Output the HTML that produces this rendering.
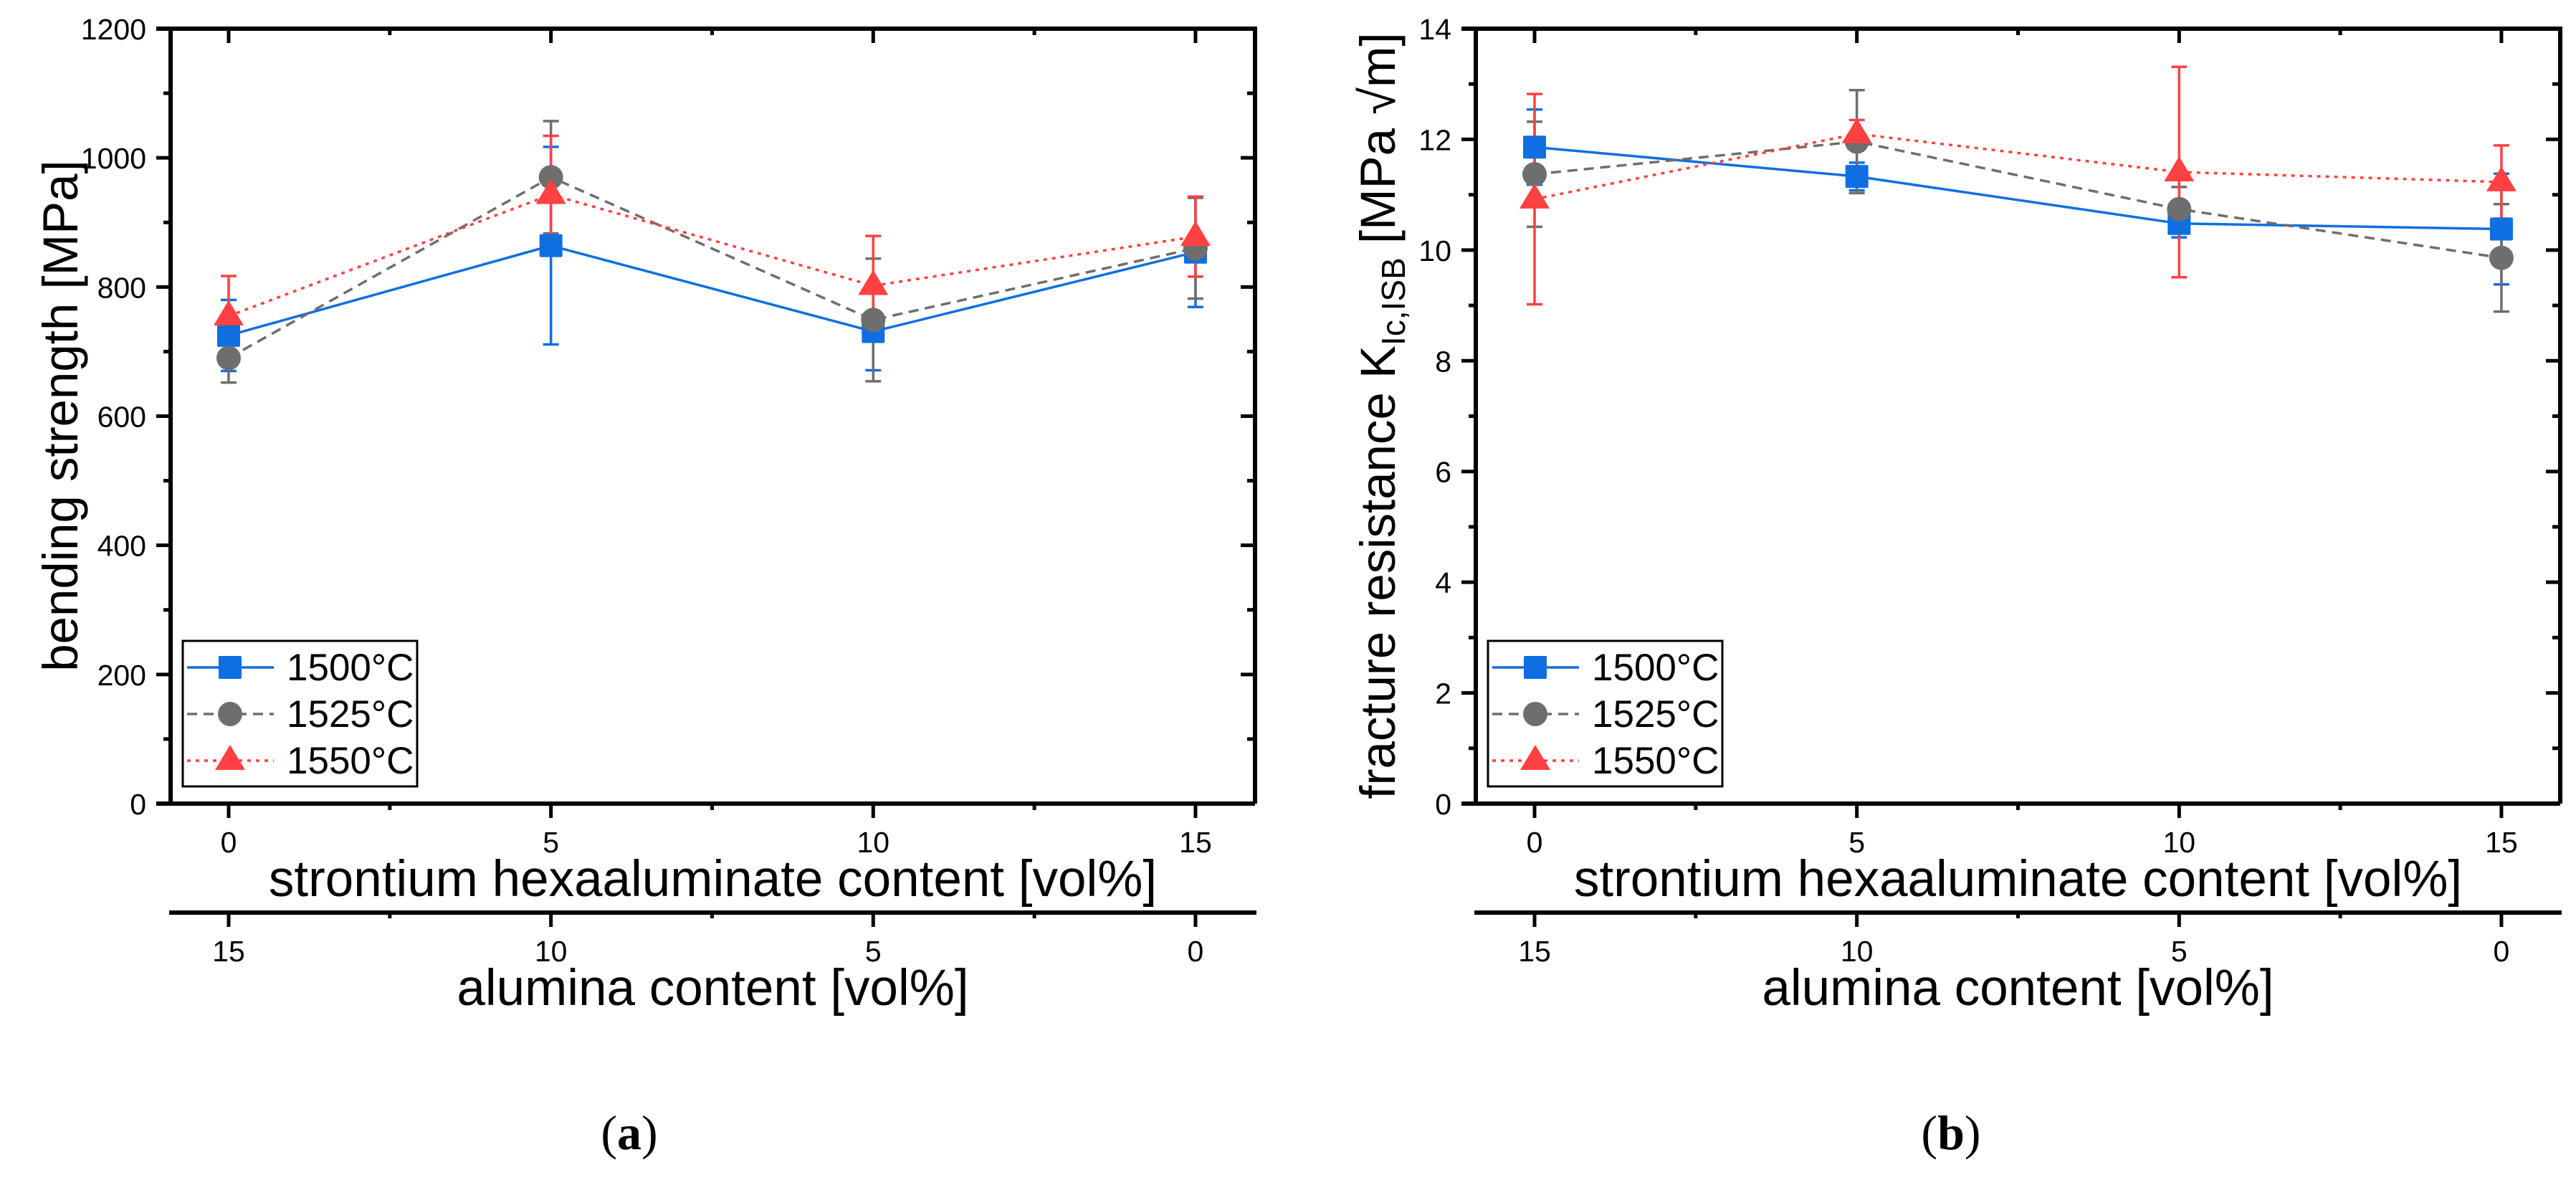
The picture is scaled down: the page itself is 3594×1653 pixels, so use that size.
<!DOCTYPE html>
<html><head><meta charset="utf-8"><style>
html,body{margin:0;padding:0;background:#fff;}
svg{display:block;font-family:"Liberation Sans",Arial,sans-serif;}
</style></head><body>
<svg id="fig" width="3594" height="1653" viewBox="0 0 3594 1653" xmlns="http://www.w3.org/2000/svg"></svg>
<script>
const categories = [0, 5, 10, 15];
const aluminaLabels = ["15", "10", "5", "0"];
const seriesNames = ["1500°C", "1525°C", "1550°C"];
const strength1500 = [725, 864, 731, 854];
const strength1525 = [690, 970, 749, 860];
const strength1550 = [755, 943, 802, 878];
const strengthErr1500 = [55, 153, 60, 85];
const strengthErr1525 = [38, 87, 95, 78];
const strengthErr1550 = [62, 91, 77, 62];
const kic1500 = [11.86, 11.33, 10.48, 10.38];
const kic1525 = [11.37, 11.96, 10.74, 9.86];
const kic1550 = [10.92, 12.1, 11.41, 11.23];
const kicErr1500 = [0.68, 0.25, 0.25, 1.0];
const kicErr1525 = [0.95, 0.93, 0.4, 0.97];
const kicErr1550 = [1.9, 0.25, 1.9, 0.66];
const strengthTicks = [0, 200, 400, 600, 800, 1000, 1200];
const kicTicks = [0, 2, 4, 6, 8, 10, 12, 14];

const NS = "http://www.w3.org/2000/svg";
const svg = document.getElementById("fig");
function mk(tag, attrs, parent, text) {
  const e = document.createElementNS(NS, tag);
  for (const k in attrs) e.setAttribute(k, attrs[k]);
  if (text !== undefined) e.textContent = text;
  (parent || svg).appendChild(e);
  return e;
}
const colors = ["#0f6fe0", "#6e6e6e", "#ff4141"];
const dashes = ["none", "14 9", "5 7"];

function marker(g, i, cx, cy) {
  let m;
  if (i === 0) m = mk("rect", {x: cx - 16, y: cy - 16, width: 32, height: 32, rx: 2, fill: colors[0]}, g);
  else if (i === 1) m = mk("circle", {cx: cx, cy: cy, r: 17, fill: colors[1]}, g);
  else m = mk("polygon", {points: `${cx},${cy - 22} ${cx + 21},${cy + 13} ${cx - 21},${cy + 13}`, fill: colors[2]}, g);
  return m;
}

function chart(opt) {
  const L = opt.left, R = opt.right, T = 40, B = 1121;
  const xs = v => opt.x0 + v * 89.93;
  const ys = v => B - v * (B - T) / opt.ymax;
  const g = mk("g", {});
  
  
  const ax = {stroke: "#000", "stroke-width": 6, fill: "none"};
  const fr = mk("path", Object.assign({d: `M${L - 20} ${T} H${R} V${B} M${L} ${T} V${B} M${L - 20} ${B} H${R}`, "stroke-linecap": "butt"}, ax), g);
  
  
  for (let v = 0; v <= opt.ymax + 1e-9; v += opt.ystep / 2) {
    const major = Math.abs(v / opt.ystep - Math.round(v / opt.ystep)) < 1e-6;
    const y = ys(v);
    mk("line", {x1: L - (major ? 20 : 10), x2: L, y1: y, y2: y, stroke: "#000", "stroke-width": 5}, g);
    mk("line", {x1: R, x2: R - (major ? 20 : 11), y1: y, y2: y, stroke: "#000", "stroke-width": 5}, g);
  }
  opt.ticks.forEach(v => {
    const t = mk("text", {x: L - 34, y: ys(v) + 15, "text-anchor": "end", "font-size": 41}, g, String(v));
    
    
  });
  for (let v = 0; v <= 15; v += 2.5) {
    const major = v % 5 === 0;
    const x = xs(v);
    mk("line", {x1: x, x2: x, y1: B, y2: B + (major ? 20 : 9), stroke: "#000", "stroke-width": 5}, g);
    mk("line", {x1: x, x2: x, y1: T, y2: T + (major ? 20 : 9), stroke: "#000", "stroke-width": 5}, g);
    mk("line", {x1: x, x2: x, y1: 1273, y2: 1273 + (major ? 20 : 8), stroke: "#000", "stroke-width": 5}, g);
  }
  categories.forEach((c, i) => {
    const t = mk("text", {x: xs(c), y: 1189, "text-anchor": "middle", "font-size": 41}, g, String(c));
    
    
    const t2 = mk("text", {x: xs(c), y: 1341, "text-anchor": "middle", "font-size": 41}, g, aluminaLabels[i]);
    
    
  });
  const sec = mk("line", {x1: L - 2, x2: R + 2, y1: 1273, y2: 1273, stroke: "#000", "stroke-width": 6}, g);
  
  
  const cx = (L + R) / 2;
  const xt = mk("text", {x: cx, y: 1250, "text-anchor": "middle", "font-size": 71}, g, "strontium hexaaluminate content [vol%]");
  
  
  const at = mk("text", {x: cx, y: 1402, "text-anchor": "middle", "font-size": 71}, g, "alumina content [vol%]");
  
  
  const yt = mk("text", {transform: `translate(${opt.ytx},580) rotate(-90)`, "text-anchor": "middle", "font-size": 69}, g);
  
  
  opt.ytitle(yt);
  opt.series.forEach((s, i) => {
    const sg = mk("g", {}, g);
    
    
    const pts = categories.map((c, k) => `${xs(c)},${ys(s.v[k])}`).join(" ");
    mk("polyline", {points: pts, fill: "none", stroke: colors[i], "stroke-width": 3.5, "stroke-dasharray": dashes[i]}, sg);
    categories.forEach((c, k) => {
      const x = xs(c), y1 = ys(s.v[k] + s.e[k]), y2 = ys(s.v[k] - s.e[k]);
      const eb = mk("path", {d: `M${x} ${y1} V${y2} M${x - 11} ${y1} H${x + 11} M${x - 11} ${y2} H${x + 11}`, stroke: colors[i], "stroke-width": 3.5, fill: "none"}, sg);
      
      
    });
  });
  opt.series.forEach((s, i) => {
    categories.forEach((c, k) => {
      const m = marker(g, i, xs(c), ys(s.v[k]));
      
      
    });
  });
  const lg = mk("g", {}, g);
  
  
  mk("rect", {x: L + 17, y: 894, width: 327, height: 203, fill: "#fff", stroke: "#000", "stroke-width": 3}, lg);
  [931, 996, 1061].forEach((y, i) => {
    const e = mk("g", {}, lg);
    
    
    mk("line", {x1: L + 23, x2: L + 144, y1: y, y2: y, stroke: colors[i], "stroke-width": 3.5, "stroke-dasharray": dashes[i]}, e);
    marker(e, i, L + 83, y);
    mk("text", {x: L + 162, y: y + 18, "font-size": 53}, e, seriesNames[i]);
  });
  const cap = mk("text", {x: opt.capx, y: 1603, "text-anchor": "middle", "font-size": 68, "font-family": "'Liberation Serif',serif"}, svg);
  
  
  mk("tspan", {}, cap, "(");
  mk("tspan", {"font-weight": "bold"}, cap, opt.cap);
  mk("tspan", {}, cap, ")");
}

chart({
  name: "bending-strength-chart", left: 238, right: 1751, x0: 319, ymax: 1200, ystep: 200, ticks: strengthTicks,
  ytx: 108, cap: "a", capx: 878,
  ytitle: t => { t.textContent = "bending strength [MPa]"; },
  series: [{v: strength1500, e: strengthErr1500}, {v: strength1525, e: strengthErr1525}, {v: strength1550, e: strengthErr1550}]
});
chart({
  name: "fracture-resistance-chart", left: 2059, right: 3572, x0: 2141, ymax: 14, ystep: 2, ticks: kicTicks,
  ytx: 1946, cap: "b", capx: 2722,
  ytitle: t => {
    mk("tspan", {}, t, "fracture resistance K");
    mk("tspan", {"font-size": 46, dy: 14}, t, "Ic,ISB");
    mk("tspan", {dy: -14}, t, " [MPa √m]");
  },
  series: [{v: kic1500, e: kicErr1500}, {v: kic1525, e: kicErr1525}, {v: kic1550, e: kicErr1550}]
});
</script>
</body></html>
